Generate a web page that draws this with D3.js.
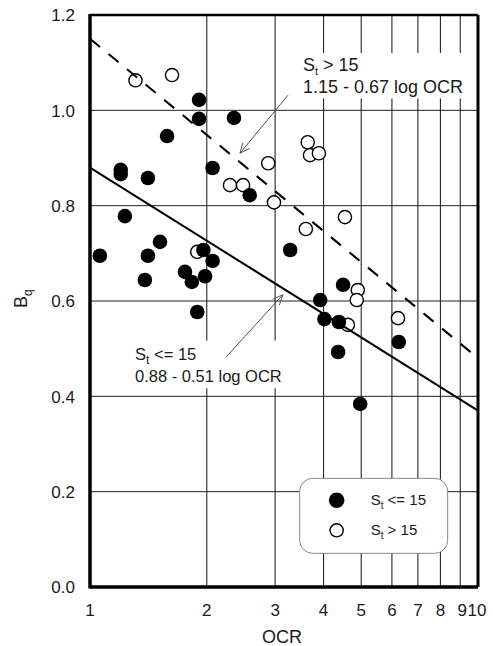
<!DOCTYPE html>
<html>
<head>
<meta charset="utf-8">
<script src="https://cdn.jsdelivr.net/npm/d3@7"></script>
<style>
  body { margin: 0; background: #fff; }
  svg text { font-family: "Liberation Sans", Arial, sans-serif; fill: #1a1a1a; }
</style>
</head>
<body>
<div id="chart"></div>
<script>
// St <= 15 (filled)
var lowOcr = [1.06, 1.2, 1.2, 1.23, 1.41, 1.58, 1.91, 1.91, 2.35, 2.07, 2.58, 1.515, 1.41, 1.385, 1.757, 1.83, 1.98, 1.96, 2.07, 1.89, 3.28, 4.49, 3.92, 4.02, 4.38, 4.36, 4.97, 6.25];
var lowBq  = [0.695, 0.875, 0.866, 0.778, 0.858, 0.946, 1.022, 0.982, 0.984, 0.879, 0.822, 0.724, 0.695, 0.644, 0.661, 0.640, 0.652, 0.707, 0.684, 0.577, 0.707, 0.634, 0.602, 0.562, 0.556, 0.493, 0.384, 0.514];

// St > 15 (open)
var highOcr = [1.31, 1.627, 1.89, 2.295, 2.48, 2.88, 2.98, 3.64, 3.69, 3.89, 3.6, 4.54, 4.9, 4.87, 4.62, 6.22];
var highBq  = [1.063, 1.074, 0.703, 0.843, 0.843, 0.889, 0.807, 0.933, 0.906, 0.910, 0.751, 0.776, 0.623, 0.602, 0.550, 0.564];

var xTicks = [1, 2, 3, 4, 5, 6, 7, 8, 9, 10];
var yTicks = [0, 0.2, 0.4, 0.6, 0.8, 1.0, 1.2];

// fit lines  Bq = a - b log OCR
var fitLow  = {a: 0.88, b: 0.51};
var fitHigh = {a: 1.15, b: 0.67};

var margin = {top: 15, right: 15, bottom: 59, left: 90},
    width = 493 - margin.left - margin.right,
    height = 646 - margin.top - margin.bottom;

var svg = d3.select("#chart").append("svg")
    .attr("width", 493)
    .attr("height", 646)
    .append("g")
    .attr("transform", "translate(" + margin.left + "," + margin.top + ")");

var x = d3.scaleLog().domain([1, 10]).range([0, width]);
var y = d3.scaleLinear().domain([0, 1.2]).range([height, 0]);

// grid
svg.selectAll(".vgrid")
    .data(xTicks.slice(1, -1))
    .enter().append("line")
    .attr("x1", d => x(d)).attr("x2", d => x(d))
    .attr("y1", 0).attr("y2", height)
    .attr("stroke", "#111").attr("stroke-width", 1);

svg.selectAll(".hgrid")
    .data(yTicks.slice(1, -1))
    .enter().append("line")
    .attr("x1", 0).attr("x2", width)
    .attr("y1", d => y(d)).attr("y2", d => y(d))
    .attr("stroke", "#222").attr("stroke-width", 1);

// white boxes behind annotations
svg.append("rect")
    .attr("x", x(3.5)).attr("y", y(1.12))
    .attr("width", x(9.8) - x(3.5)).attr("height", y(1.025) - y(1.12))
    .attr("fill", "#fff");
svg.append("rect")
    .attr("x", x(1.28)).attr("y", y(0.517))
    .attr("width", x(3.2) - x(1.28)).attr("height", y(0.417) - y(0.517))
    .attr("fill", "#fff");

// open points
svg.selectAll(".open")
    .data(d3.range(highOcr.length))
    .enter().append("circle")
    .attr("cx", i => x(highOcr[i]))
    .attr("cy", i => y(highBq[i]))
    .attr("r", 6.6)
    .attr("fill", "#fff")
    .attr("stroke", "#000")
    .attr("stroke-width", 1.4);

// fit lines
var fitX = [1, 10];
var line = fit => d3.line().x(d => x(d)).y(d => y(fit.a - fit.b * Math.log10(d)));

svg.append("path")
    .attr("d", line(fitHigh)(fitX))
    .attr("fill", "none").attr("stroke", "#000")
    .attr("stroke-width", 2)
    .attr("stroke-dasharray", "13,11");

svg.append("path")
    .attr("d", line(fitLow)(fitX))
    .attr("fill", "none").attr("stroke", "#000")
    .attr("stroke-width", 2);

// filled points
svg.selectAll(".filled")
    .data(d3.range(lowOcr.length))
    .enter().append("circle")
    .attr("cx", i => x(lowOcr[i]))
    .attr("cy", i => y(lowBq[i]))
    .attr("r", 7.3)
    .attr("fill", "#000");

// arrows
function arrow(x1, y1, x2, y2) {
    var ax = x(x1), ay = y(y1), bx = x(x2), by = y(y2);
    var ang = Math.atan2(by - ay, bx - ax), len = 11, spread = 0.42;
    svg.append("path")
        .attr("d", "M" + ax + "," + ay + "L" + bx + "," + by +
            "M" + (bx - len * Math.cos(ang - spread)) + "," + (by - len * Math.sin(ang - spread)) +
            "L" + bx + "," + by +
            "L" + (bx - len * Math.cos(ang + spread)) + "," + (by - len * Math.sin(ang + spread)))
        .attr("fill", "none").attr("stroke", "#555").attr("stroke-width", 1);
}
arrow(3.24, 1.032, 2.435, 0.910);
arrow(2.24, 0.482, 3.14, 0.613);

// annotation text
function subLabel(g, px, py, size, subSize, subDy, rest) {
    var t = g.append("text").attr("x", px).attr("y", py).style("font-size", size + "px");
    t.append("tspan").text("S");
    t.append("tspan").attr("dy", subDy).style("font-size", subSize + "px").text("t");
    t.append("tspan").attr("dy", -subDy).text(rest);
    return t;
}

subLabel(svg, x(3.54), y(1.082), 18, 11, 4, " > 15");
svg.append("text").attr("x", x(3.54)).attr("y", y(1.036))
    .style("font-size", "18px").text("1.15 - 0.67 log OCR");

subLabel(svg, x(1.306), y(0.476), 16.5, 12.5, 3.5, " <= 15");
svg.append("text").attr("x", x(1.306)).attr("y", y(0.430))
    .style("font-size", "16.5px").text("0.88 - 0.51 log OCR");

// legend
var lg = svg.append("g").attr("transform", "translate(" + (x(3.47)) + "," + (y(0.228)) + ")");
lg.append("rect")
    .attr("width", 148).attr("height", 75)
    .attr("rx", 13).attr("ry", 13)
    .attr("fill", "#fff").attr("stroke", "#888").attr("stroke-width", 1);
lg.append("circle").attr("cx", 37).attr("cy", 22).attr("r", 7.8).attr("fill", "#000");
lg.append("circle").attr("cx", 37).attr("cy", 52).attr("r", 6.6)
    .attr("fill", "#fff").attr("stroke", "#000").attr("stroke-width", 1.4);
subLabel(lg, 71, 27, 15, 10, 4, " <= 15");
subLabel(lg, 71, 57, 15, 10, 4, " > 15");

// frame
svg.append("line").attr("x1", 0).attr("x2", width).attr("y1", 0).attr("y2", 0)
    .attr("stroke", "#000").attr("stroke-width", 2.5);
svg.append("line").attr("x1", width).attr("x2", width).attr("y1", 0).attr("y2", height)
    .attr("stroke", "#000").attr("stroke-width", 3);
svg.append("line").attr("x1", 0).attr("x2", width).attr("y1", height).attr("y2", height)
    .attr("stroke", "#000").attr("stroke-width", 3.5);
svg.append("line").attr("x1", 0).attr("x2", 0).attr("y1", -1).attr("y2", height + 1.5)
    .attr("stroke", "#000").attr("stroke-width", 3.5);

// tick labels
svg.selectAll(".xlab")
    .data(xTicks)
    .enter().append("text")
    .attr("x", d => x(d) + (d == 9 ? 2 : d == 10 ? -1 : 0))
    .attr("y", height + 29)
    .attr("text-anchor", "middle")
    .style("font-size", "17px")
    .text(d => d);

svg.selectAll(".ylab")
    .data(yTicks)
    .enter().append("text")
    .attr("x", -15)
    .attr("y", d => y(d))
    .attr("dy", ".38em")
    .attr("text-anchor", "end")
    .style("font-size", "17px")
    .text(d => d.toFixed(1));

svg.append("text")
    .attr("x", width / 2 - 2)
    .attr("y", height + 56)
    .attr("text-anchor", "middle")
    .style("font-size", "18px")
    .text("OCR");

var yl = svg.append("text")
    .attr("transform", "translate(" + (-63) + "," + (y(0.605)) + ")rotate(-90)")
    .attr("text-anchor", "middle")
    .style("font-size", "18px");
yl.append("tspan").text("B");
yl.append("tspan").attr("dy", 5).style("font-size", "12px").text("q");
</script>
</body>
</html>
